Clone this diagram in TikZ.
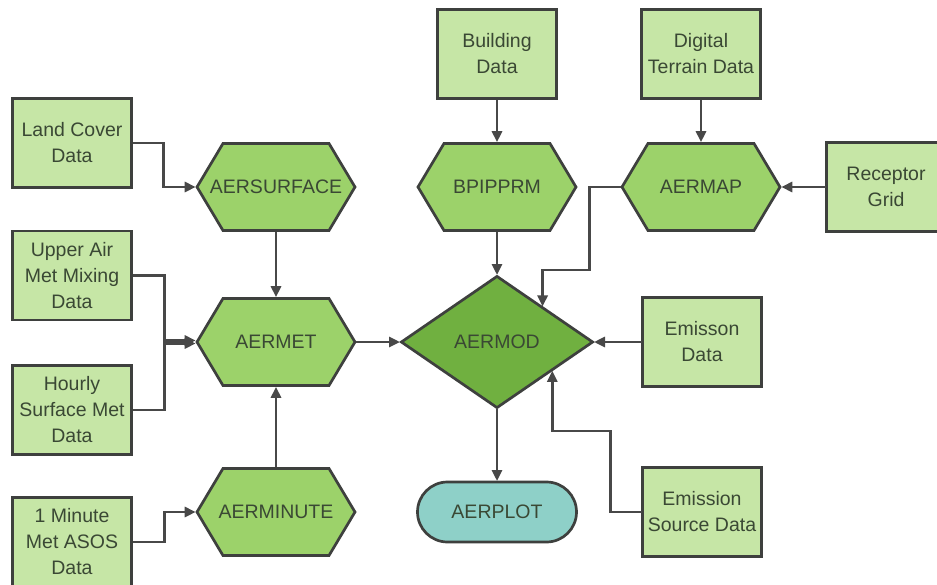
\documentclass[tikz,border=0pt]{standalone}
\usepackage{fontspec}
\setmainfont{Liberation Sans}
\usetikzlibrary{arrows.meta,shapes.geometric,calc}
\definecolor{boxfill}{RGB}{198,230,166}
\definecolor{hexfill}{RGB}{156,210,106}
\definecolor{diafill}{RGB}{112,176,64}
\definecolor{plotfill}{RGB}{142,208,200}
\definecolor{bordercol}{RGB}{62,64,62}
\definecolor{linecol}{RGB}{72,72,72}
\definecolor{textcol}{RGB}{58,72,52}
\tikzset{
  lbl/.style={text=textcol, font=\fontsize{19.5}{26}\selectfont, align=center},
  databox/.style={lbl, rectangle, draw=bordercol, fill=boxfill, line width=2.7pt,
    minimum width=119pt, minimum height=89pt, inner sep=0pt, outer sep=1pt},
  hexshape/.style={draw=bordercol, fill=hexfill, line width=2.7pt, line join=miter},
  hextext/.style={lbl, rectangle, minimum width=158pt, minimum height=87pt, inner sep=0pt, outer sep=1.3pt},
  arr/.style={draw=linecol, line width=2.7pt, -{Triangle[length=11pt,width=10pt]}},
}
\newcommand\hexnode[4]{%
  \filldraw[hexshape] (#2-79,#3) -- (#2-53,#3-43.5) -- (#2+53,#3-43.5) -- (#2+79,#3)
    -- (#2+53,#3+43.5) -- (#2-53,#3+43.5) -- cycle;
  \node[hextext] (#1) at (#2,#3) {#4};}
\begin{document}
\begin{tikzpicture}[x=1pt,y=-1pt]
\useasboundingbox[fill=white] (0,0) rectangle (937,584);
% data boxes
\node[databox] (landcover) at (72,143) {Land Cover\\Data};
\node[databox] (upperair) at (72,275.5) {Upper Air\\Met Mixing\\Data};
\node[databox] (hourly) at (72,410) {Hourly\\Surface Met\\Data};
\node[databox] (oneminute) at (72,542) {1 Minute\\Met ASOS\\Data};
\node[databox] (building) at (497,54) {Building\\Data};
\node[databox] (digital) at (701,54) {Digital\\Terrain Data};
\node[databox] (receptor) at (886,187) {Receptor\\Grid};
\node[databox] (emisson) at (702,342) {Emisson\\Data};
\node[databox] (esource) at (702,512) {Emission\\Source Data};
% processors
\hexnode{aersurface}{276}{187}{AERSURFACE}
\hexnode{aermet}{276}{342}{AERMET}
\hexnode{aerminute}{276}{512}{AERMINUTE}
\hexnode{bpipprm}{497}{187}{BPIPPRM}
\hexnode{aermap}{701}{187}{AERMAP}
\node[lbl, diamond, draw=bordercol, fill=diafill, line width=2.7pt,
  minimum width=192pt, minimum height=132pt, inner sep=0pt, outer sep=1pt] (aermod) at (497,342) {AERMOD};
\node[lbl, rectangle, rounded corners=30pt, draw=bordercol, fill=plotfill, line width=2.7pt,
  minimum width=159pt, minimum height=60pt, inner sep=0pt, outer sep=1pt] (aerplot) at (497,512) {AERPLOT};
\coordinate (m1) at ($(aermod.north)!0.47!(aermod.east)$);
\coordinate (m2) at ($(aermod.east)!0.43!(aermod.south)$);
% connectors
\draw[arr] (landcover.east) -- ++(31,0) |- (aersurface.west);
\draw[arr] (upperair.east) -- ++(32,0) |- ([yshift=1.5pt]aermet.west);
\draw[arr] (hourly.east) -- ++(32,0) |- ([yshift=-1.5pt]aermet.west);
\draw[arr] (oneminute.east) -- ++(32,0) |- (aerminute.west);
\draw[arr] (aersurface.south) -- (aermet.north);
\draw[arr] (aerminute.north) -- (aermet.south);
\draw[arr] (aermet.east) -- (aermod.west);
\draw[arr] (building.south) -- (bpipprm.north);
\draw[arr] (bpipprm.south) -- (aermod.north);
\draw[arr] (digital.south) -- (aermap.north);
\draw[arr] (receptor.west) -- (aermap.east);
\draw[arr] (aermap.west) -- ++(-31,0) -- ++(0,83) -| (m1);
\draw[arr] (emisson.west) -- (aermod.east);
\draw[arr] (esource.west) -- ++(-31,0) -- ++(0,-81) -| (m2);
\draw[arr] (aermod.south) -- (aerplot.north);
\end{tikzpicture}
\end{document}
